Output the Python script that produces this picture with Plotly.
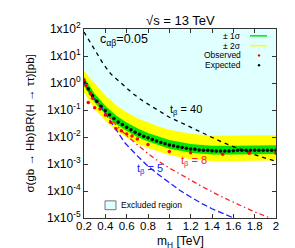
import plotly.graph_objects as go

# ---------------- data ----------------
mass_exp = [0.20, 0.24, 0.28, 0.32, 0.36, 0.40, 0.44, 0.48, 0.52, 0.56, 0.60, 0.64,
            0.68, 0.72, 0.76, 0.80, 0.84, 0.88, 0.92, 0.96, 1.00, 1.04, 1.08, 1.12,
            1.16, 1.20, 1.24, 1.28, 1.32, 1.36, 1.40, 1.44, 1.48, 1.52, 1.56, 1.60,
            1.64, 1.68, 1.72, 1.76, 1.80, 1.84, 1.88, 1.92, 1.96, 2.00]
expected = [1.10, 0.60, 0.34, 0.21, 0.138, 0.095, 0.066, 0.048, 0.036, 0.029, 0.023, 0.0186,
            0.0151, 0.0126, 0.0107, 0.0093, 0.0081, 0.0071, 0.0063, 0.0056, 0.0051, 0.0047, 0.0044, 0.0041,
            0.0038, 0.0036, 0.0035, 0.0033, 0.0032, 0.0032, 0.0031, 0.0030, 0.0030, 0.0030, 0.0030, 0.0031,
            0.0032, 0.0032, 0.0032, 0.0032, 0.0032, 0.0032, 0.0032, 0.0032, 0.0032, 0.0032]

mass_obs = [0.20, 0.22, 0.24, 0.26, 0.28, 0.30, 0.35, 0.40, 0.45, 0.50, 0.55, 0.60,
            0.65, 0.70, 0.80, 1.00, 1.20, 1.50, 1.75, 2.00]
observed = [1.3, 0.8, 0.19, 0.40, 0.27, 0.12, 0.11, 0.065, 0.035, 0.020, 0.017, 0.013,
            0.011, 0.0085, 0.0053, 0.0029, 0.0026, 0.0023, 0.0025, 0.0025]

mass_band = [0.2, 0.25, 0.3, 0.4, 0.5, 0.6, 0.7, 0.8, 0.9, 1.0, 1.2, 1.4, 1.6, 1.8, 2.0]
sig2_hi = [2.75, 1.66, 0.95, 0.347, 0.151, 0.083, 0.050, 0.034, 0.0245, 0.0186, 0.0132, 0.0112, 0.0112, 0.0117, 0.0117]
sig2_lo = [0.457, 0.219, 0.110, 0.040, 0.0174, 0.0095, 0.0058, 0.0039, 0.0028, 0.00214, 0.00151, 0.00129, 0.00129, 0.00135, 0.00135]
sig1_hi = [1.66, 0.79, 0.40, 0.145, 0.063, 0.0347, 0.0209, 0.0141, 0.0102, 0.0078, 0.0055, 0.0047, 0.0047, 0.0049, 0.0049]
sig1_lo = [0.79, 0.38, 0.19, 0.069, 0.030, 0.0166, 0.0100, 0.0068, 0.0049, 0.0037, 0.0026, 0.00224, 0.00224, 0.00234, 0.00234]

mass_tb40 = [0.2, 0.24, 0.3, 0.38, 0.45, 0.57, 0.66, 0.75, 0.86, 1.0, 1.1, 1.2, 1.3, 1.4, 1.5, 1.6, 1.7, 1.8, 1.9, 2.0]
tb40 = [77.6, 42.7, 15.5, 5.13, 2.19, 0.79, 0.40, 0.219, 0.120, 0.054, 0.0355, 0.0229, 0.0148, 0.0093, 0.0063, 0.0044, 0.0031, 0.00224, 0.00166, 0.00126]

mass_tb8 = [0.2, 0.3, 0.4, 0.5, 0.6, 0.7, 0.8, 0.9, 1.0, 1.144, 1.3, 1.484, 1.6, 1.756, 1.925, 2.0]
tb8 = [1.26, 0.28, 0.079, 0.028, 0.0112, 0.0050, 0.0024, 0.00126, 0.00071, 0.00034, 0.000151, 6.3e-5, 3.8e-5, 2.0e-5, 1.07e-5, 8.5e-6]

mass_tb5 = [0.2, 0.3, 0.37, 0.49, 0.58, 0.7, 0.8, 0.9, 1.0, 1.1, 1.2, 1.3, 1.4, 1.5, 1.6, 1.65]
tb5 = [1.0, 0.25, 0.112, 0.0204, 0.0063, 0.0020, 0.00083, 0.0004, 0.0002, 0.000105, 6.0e-5, 3.5e-5, 2.2e-5, 1.5e-5, 1.0e-5, 8.3e-6]

y_top = 100.0
ytick_vals = [1e-5, 1e-4, 1e-3, 1e-2, 1e-1, 1e0, 1e1, 1e2]
ytick_text = ["1x10<sup>-5</sup>", "1x10<sup>-4</sup>", "1x10<sup>-3</sup>", "1x10<sup>-2</sup>",
              "1x10<sup>-1</sup>", "1x10<sup>0</sup>", "1x10<sup>1</sup>", "1x10<sup>2</sup>"]
xtick_vals = [0.2, 0.4, 0.6, 0.8, 1.0, 1.2, 1.4, 1.6, 1.8, 2.0]
xtick_text = ["0.2", "0.4", "0.6", "0.8", "1", "1.2", "1.4", "1.6", "1.8", "2"]

CYAN = "#e0ffff"
YELLOW = "#ffff00"
GREEN = "#00e600"
FONT = "Liberation Sans, Arial, sans-serif"

fig = go.Figure()
# excluded region (above observed)
fig.add_trace(go.Scatter(x=mass_obs, y=observed, mode="lines", line=dict(width=0), hoverinfo="skip"))
fig.add_trace(go.Scatter(x=mass_obs, y=[y_top] * len(mass_obs), mode="lines", line=dict(width=0),
                         fill="tonexty", fillcolor=CYAN, hoverinfo="skip"))
# 2 sigma
fig.add_trace(go.Scatter(x=mass_band, y=sig2_lo, mode="lines", line=dict(width=0), hoverinfo="skip"))
fig.add_trace(go.Scatter(x=mass_band, y=sig2_hi, mode="lines", line=dict(width=0),
                         fill="tonexty", fillcolor=YELLOW, hoverinfo="skip"))
# 1 sigma
fig.add_trace(go.Scatter(x=mass_band, y=sig1_lo, mode="lines", line=dict(width=0), hoverinfo="skip"))
fig.add_trace(go.Scatter(x=mass_band, y=sig1_hi, mode="lines", line=dict(width=0),
                         fill="tonexty", fillcolor=GREEN, hoverinfo="skip"))
# theory curves
fig.add_trace(go.Scatter(x=mass_tb40, y=tb40, mode="lines",
                         line=dict(color="black", width=1.3, dash="4px,4px")))
fig.add_trace(go.Scatter(x=mass_tb8, y=tb8, mode="lines",
                         line=dict(color="#ff2020", width=1.3, dash="5px,3px,1.5px,3px")))
fig.add_trace(go.Scatter(x=mass_tb5, y=tb5, mode="lines",
                         line=dict(color="#2020ff", width=1.3, dash="6px,3px")))
# expected & observed
fig.add_trace(go.Scatter(x=mass_exp, y=expected, mode="markers",
                         marker=dict(color="black", size=3.5)))
fig.add_trace(go.Scatter(x=mass_obs, y=observed, mode="markers",
                         marker=dict(color="#ff0000", size=3.5)))

W, H = 295, 248
L, R, T, B = 76, 27, 17, 38
pw, ph = W - L - R, H - T - B

def px(x):
    return (x - L) / pw

def py(y):
    return (H - B - y) / ph

ann = []
ann.append(dict(text="√s = 13 TeV", x=0.5, y=py(8), xref="paper", yref="paper",
                showarrow=False, font=dict(size=13, color="black"), yanchor="middle"))
ann.append(dict(text="c<sub>αβ</sub>=0.05", x=px(90), y=py(28), xref="paper", yref="paper",
                showarrow=False, xanchor="left", yanchor="middle", font=dict(size=12.5, color="black")))
ann.append(dict(text="m<sub>H</sub> [TeV]", x=0.5, y=py(234), xref="paper", yref="paper",
                showarrow=False, yanchor="middle", font=dict(size=12, color="black")))
ann.append(dict(text="σ(gb → Hb)BR(H → ττ)[pb]", x=px(21), y=0.5, xref="paper", yref="paper",
                showarrow=False, textangle=-90, xanchor="center", yanchor="middle",
                font=dict(size=11.5, color="black")))
ann.append(dict(text="t<sub>β</sub> = 40", x=px(178), y=py(100), xref="paper", yref="paper",
                showarrow=False, font=dict(size=11, color="black")))
ann.append(dict(text="t<sub>β</sub> = 8", x=px(186), y=py(161), xref="paper", yref="paper",
                showarrow=False, font=dict(size=11, color="#ff2020")))
ann.append(dict(text="t<sub>β</sub> = 5", x=px(127), y=py(169), xref="paper", yref="paper",
                showarrow=False, font=dict(size=11, color="#2020ff")))
# legend texts
for label, yy in [("± 1σ", 24), ("± 2σ", 34), ("Observed", 44), ("Expected", 54)]:
    ann.append(dict(text=label, x=px(235), y=py(yy), xref="paper", yref="paper", showarrow=False,
                    xanchor="right", yanchor="middle", font=dict(size=8.5, color="black")))
ann.append(dict(text="Excluded region", x=px(111), y=py(197), xref="paper", yref="paper",
                showarrow=False, xanchor="left", yanchor="middle", font=dict(size=8.5, color="black")))

shapes = []
shapes.append(dict(type="line", xref="paper", yref="paper", x0=px(242), x1=px(259), y0=py(24), y1=py(24),
                   line=dict(color=GREEN, width=1.5)))
shapes.append(dict(type="line", xref="paper", yref="paper", x0=px(242), x1=px(259), y0=py(34), y1=py(34),
                   line=dict(color=YELLOW, width=1.5)))
shapes.append(dict(type="circle", xref="paper", yref="paper", x0=px(249.8), x1=px(252.2), y0=py(45.2), y1=py(42.8),
                   fillcolor="#ff0000", line=dict(width=0)))
shapes.append(dict(type="circle", xref="paper", yref="paper", x0=px(249.8), x1=px(252.2), y0=py(55.2), y1=py(52.8),
                   fillcolor="black", line=dict(width=0)))
shapes.append(dict(type="rect", xref="paper", yref="paper", x0=px(97), x1=px(108), y0=py(201.5), y1=py(192.5),
                   fillcolor=CYAN, line=dict(color="#555555", width=0.8)))

fig.update_layout(
    width=W, height=H, margin=dict(l=L, r=R, t=T, b=B),
    paper_bgcolor="white", plot_bgcolor="white", showlegend=False,
    font=dict(family=FONT, color="black"),
    annotations=ann, shapes=shapes,
)
fig.update_xaxes(range=[0.2, 2.0], tickvals=xtick_vals, ticktext=xtick_text, ticks="inside", ticklen=4,
                 showline=True, linecolor="#333333", linewidth=1, mirror="ticks", showgrid=False,
                 zeroline=False, tickfont=dict(size=11.5), tickcolor="#333333", ticklabelstandoff=-3)
fig.update_yaxes(type="log", range=[-5, 2], tickvals=ytick_vals, ticktext=ytick_text, ticks="inside", ticklen=4,
                 showline=True, linecolor="#333333", linewidth=1, mirror="ticks", showgrid=False,
                 zeroline=False, tickfont=dict(size=12), tickcolor="#333333")

fig.write_html("out.html")
